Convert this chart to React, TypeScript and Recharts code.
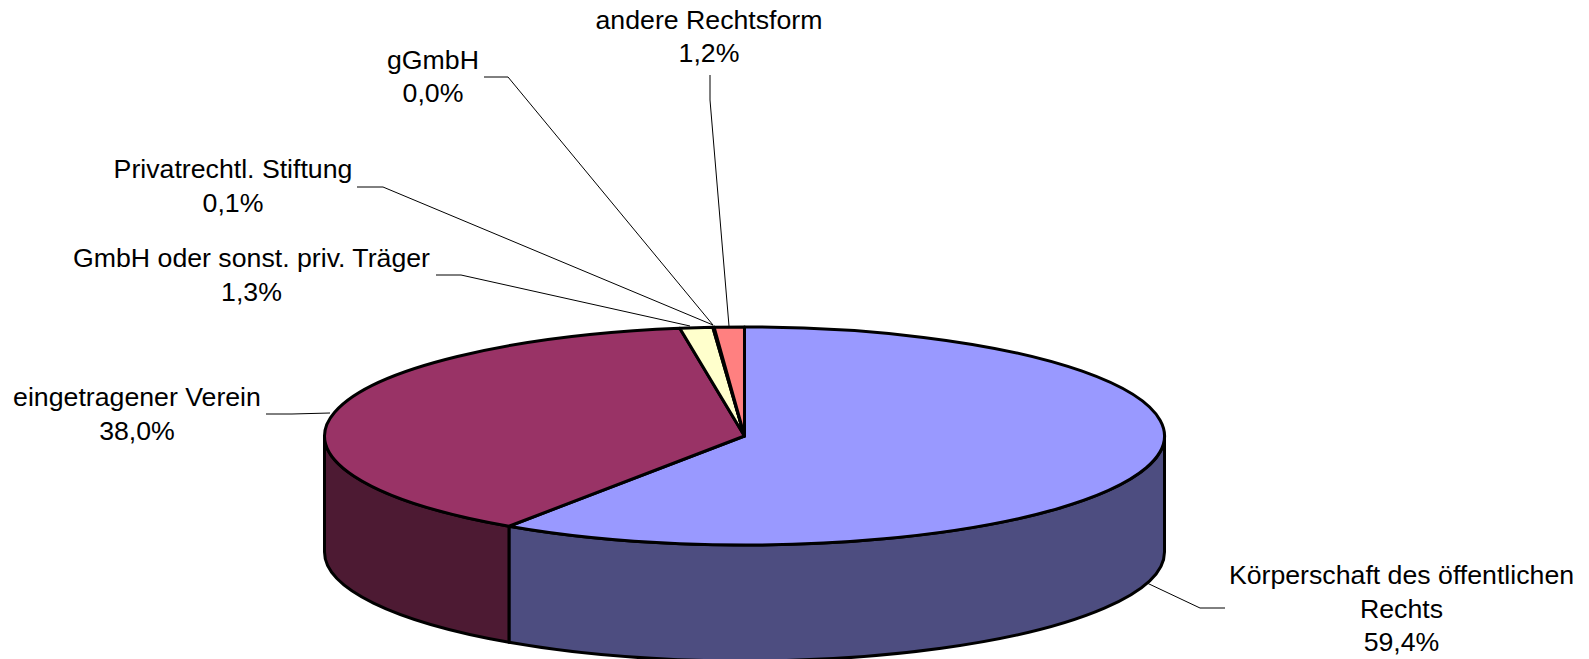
import React from "react";
import { PieChart, Pie, Cell } from "recharts";

const categories = [
  "Körperschaft des öffentlichen Rechts",
  "eingetragener Verein",
  "GmbH oder sonst. priv. Träger",
  "Privatrechtl. Stiftung",
  "gGmbH",
  "andere Rechtsform",
];
const shares = [59.44, 38.04, 1.26, 0.05, 0.0, 1.151];
const topColors = ["#9999FF", "#993366", "#FFFFCC", "#CCFFFF", "#660066", "#FF8080"];
const sideColors = ["#4D4D80", "#4D1A33", "#808066", "#668080", "#330033", "#804040"];
const labelLines = [
  ["Körperschaft des öffentlichen", "Rechts"],
  ["eingetragener Verein"],
  ["GmbH oder sonst. priv. Träger"],
  ["Privatrechtl. Stiftung"],
  ["gGmbH"],
  ["andere Rechtsform"],
];

const W = 1589;
const H = 659;
const CX = 744.5;
const CY = 436;
const RX = 420;
const RY = 109;
const DEPTH = 116;
const LINE_H = 33.5;

// label layout: text centre x, first baseline y, leader polyline
const labelLayout = [
  { x: 1401.5, y: 584, path: "M1147 583L1200 608L1225 608" },
  { x: 137, y: 406, path: "M266 414L292 414L330 413" },
  { x: 251.5, y: 267, path: "M436 275L461 275L690 326" },
  { x: 233, y: 178, path: "M357 187L383 187L713 325" },
  { x: 433, y: 68.5, path: "M484 77L508 77L713 325" },
  { x: 709, y: 28.5, path: "M710 75L710 100L729 326" },
];

const rows = categories.map((name, i) => ({ name, share: shares[i] }));

const pt = (cx: number, cy: number, rx: number, ry: number, deg: number) => {
  const a = (deg * Math.PI) / 180;
  return [cx + rx * Math.cos(a), cy - ry * Math.sin(a)];
};

const TopSlice = (p: any) => {
  const rx = p.outerRadius;
  const ry = (rx * RY) / RX;
  const [x1, y1] = pt(p.cx, p.cy, rx, ry, p.startAngle);
  const [x2, y2] = pt(p.cx, p.cy, rx, ry, p.endAngle);
  const large = Math.abs(p.endAngle - p.startAngle) > 180 ? 1 : 0;
  return (
    <path
      d={`M${p.cx} ${p.cy}L${x1} ${y1}A${rx} ${ry} 0 ${large} 1 ${x2} ${y2}Z`}
      fill={p.fill}
      stroke="#000"
      strokeWidth={3}
      strokeLinejoin="round"
    />
  );
};

const SideSlice = (p: any) => {
  const rx = p.outerRadius;
  const ry = (rx * RY) / RX;
  const hi = Math.min(Math.max(p.startAngle, p.endAngle), 0);
  const lo = Math.max(Math.min(p.startAngle, p.endAngle), -180);
  if (hi <= lo) return <g />;
  const [x1, y1] = pt(p.cx, p.cy, rx, ry, hi);
  const [x2, y2] = pt(p.cx, p.cy, rx, ry, lo);
  return (
    <path
      d={`M${x1} ${y1}A${rx} ${ry} 0 0 1 ${x2} ${y2}L${x2} ${y2 + DEPTH}A${rx} ${ry} 0 0 0 ${x1} ${y1 + DEPTH}Z`}
      fill={p.fill}
      stroke="#000"
      strokeWidth={3}
      strokeLinejoin="round"
    />
  );
};

const SliceLabel = (p: any) => {
  const i = p.index;
  const l = labelLayout[i];
  const lines = [...labelLines[i], `${shares[i].toFixed(1).replace(".", ",")}%`];
  return (
    <g>
      <path d={l.path} fill="none" stroke="#000" strokeWidth={1} />
      <text
        textAnchor="middle"
        fontFamily="'Liberation Sans', Arial, sans-serif"
        fontSize={26.7}
        fill="#000"
      >
        {lines.map((t, k) => (
          <tspan key={k} x={l.x} y={l.y + k * LINE_H}>
            {t}
          </tspan>
        ))}
      </text>
    </g>
  );
};

export default function App() {
  return (
    <div style={{ position: "absolute", left: 0, top: 0, width: W, height: H, overflow: "hidden", background: "#fff" }}>
      <PieChart width={W} height={H} margin={{ top: 0, right: 0, bottom: 0, left: 0 }}>
        <Pie
          data={rows}
          dataKey="share"
          cx={CX}
          cy={CY}
          innerRadius={0}
          outerRadius={RX}
          startAngle={90}
          endAngle={-270}
          isAnimationActive={false}
          shape={SideSlice}
          label={false}
          labelLine={false}
        >
          {rows.map((_, i) => (
            <Cell key={i} fill={sideColors[i]} />
          ))}
        </Pie>
        <Pie
          data={rows}
          dataKey="share"
          cx={CX}
          cy={CY}
          innerRadius={0}
          outerRadius={RX}
          startAngle={90}
          endAngle={-270}
          isAnimationActive={false}
          shape={TopSlice}
          label={SliceLabel}
          labelLine={false}
        >
          {rows.map((_, i) => (
            <Cell key={i} fill={topColors[i]} />
          ))}
        </Pie>
      </PieChart>
    </div>
  );
}
